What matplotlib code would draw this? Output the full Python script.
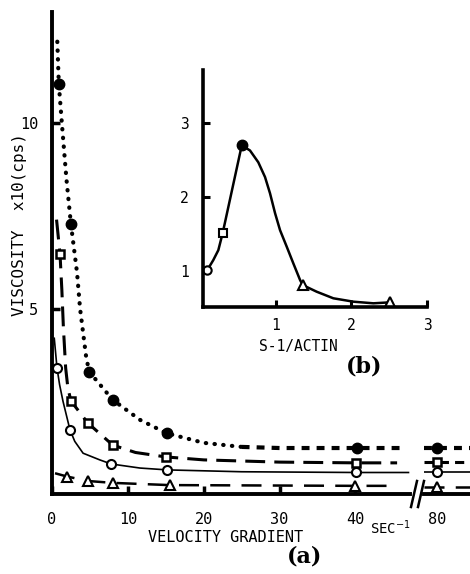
import numpy as np
import matplotlib.pyplot as plt

# ---- data ----
# (a) viscosity x10 (cps) vs velocity gradient (sec^-1)
fc_x = [0.9, 2.5, 4.9, 8.0, 15.1, 40.2]          # filled circles
fc_y = [11.05, 7.27, 3.3, 2.54, 1.64, 1.24]
fc_80 = 1.24
fc_cx = [0.7, 0.9, 1.3, 1.9, 2.5, 3.3, 3.7, 4.5, 4.9, 8.0, 11.6, 15.1, 20, 25, 30, 40.2, 46]
fc_cy = [12.2, 11.05, 10.0, 8.5, 7.27, 5.97, 5.0, 3.7, 3.3, 2.54, 2.0, 1.64, 1.38, 1.27, 1.24, 1.24, 1.24]

sq_x = [1.06, 2.5, 4.7, 8.0, 15.0, 40.1]         # open squares
sq_y = [6.46, 2.51, 1.92, 1.32, 1.0, 0.84]
sq_80 = 0.86
sq_cx = [0.6, 1.06, 1.3, 1.5, 1.8, 2.1, 2.5, 4.7, 8.0, 11, 15.0, 20, 30, 40.1, 45.5]
sq_cy = [7.4, 6.46, 5.5, 4.5, 3.4, 2.85, 2.51, 1.92, 1.32, 1.12, 1.0, 0.92, 0.86, 0.84, 0.84]

oc_x = [0.66, 2.37, 7.8, 15.2, 40.1]             # open circles
oc_y = [3.4, 1.73, 0.81, 0.65, 0.58]
oc_80 = 0.58
oc_cx = [0.3, 0.66, 1.0, 1.45, 2.37, 3.0, 4.1, 6.3, 7.8, 11.6, 15.2, 25, 40.1, 47]
oc_cy = [4.2, 3.4, 2.95, 2.5, 1.73, 1.42, 1.1, 0.92, 0.81, 0.7, 0.65, 0.6, 0.58, 0.58]

tr_x = [2.0, 4.8, 8.0, 15.5, 40.0]               # open triangles
tr_y = [0.47, 0.35, 0.3, 0.24, 0.22]
tr_80 = 0.2
tr_cx = [0.4, 2.0, 4.8, 8.0, 15.5, 40.0, 44.6]
tr_cy = [0.56, 0.47, 0.35, 0.3, 0.24, 0.22, 0.22]

# (b) viscosity vs S-1/actin
in_x = [0.092, 0.296, 0.548, 1.355, 2.51]
in_y = [1.01, 1.514, 2.70, 0.807, 0.573]
in_cx = [0.092, 0.171, 0.238, 0.296, 0.548, 0.657, 0.767, 0.856, 0.922, 0.989, 1.055,
         1.144, 1.231, 1.32, 1.355, 1.54, 1.76, 2.026, 2.29, 2.51]
in_cy = [1.01, 1.145, 1.28, 1.514, 2.70, 2.63, 2.47, 2.27, 2.05, 1.78, 1.55,
         1.325, 1.10, 0.875, 0.807, 0.717, 0.628, 0.582, 0.56, 0.573]

W, H = 470, 574
def fx(x):
    return x / W
def fy(y):
    return 1 - y / H

mono = 'DejaVu Sans Mono'
fig = plt.figure(figsize=(W / 100, H / 100), dpi=100)

ax = fig.add_axes([fx(52), fy(494), (410 - 52) / W, (494 - 12) / H])
ax2 = fig.add_axes([fx(424), fy(494), (470 - 424) / W, (494 - 12) / H])
ax.set_xlim(0, 47.2)
ax2.set_xlim(77.6, 86.1)
for a in (ax, ax2):
    a.set_ylim(0, 13)
    a.spines['top'].set_visible(False)
    a.spines['right'].set_visible(False)
    a.spines['bottom'].set_linewidth(2.8)
    a.patch.set_alpha(0)
ax.spines['left'].set_linewidth(2.8)
ax2.spines['left'].set_visible(False)

ax.set_yticks([5, 10])
ax.set_yticklabels(['5', '10'], family=mono, fontsize=11)
ax.set_xticks([0, 10, 20, 30, 40])
ax.set_xticklabels(['0', '10', '20', '30', '40'], family=mono, fontsize=11)
ax.tick_params(axis='y', direction='in', length=6, width=2.5, pad=10)
ax.tick_params(axis='x', direction='in', length=6, width=2.5, pad=13)
ax2.set_yticks([])
ax2.set_xticks([80])
ax2.set_xticklabels(['80'], family=mono, fontsize=11)
ax2.tick_params(axis='x', direction='in', length=6, width=2.5, pad=13)

# filled circles, dotted then short dashes
fcx = np.array(fc_cx)
fcy = np.array(fc_cy)
m = fcx <= 25
ax.plot(fcx[m], fcy[m], color='k', lw=3, dashes=(0.1, 2.0), dash_capstyle='round')
ax.plot(fcx[fcx >= 25], fcy[fcx >= 25], color='k', lw=3, dashes=(1.9, 1.7))
ax.plot(fc_x, fc_y, 'o', color='k', ms=7.5)
ax2.axhline(fc_80, color='k', lw=3, dashes=(1.9, 1.7))
ax2.plot([80], [fc_80], 'o', color='k', ms=7.5)

# open squares, long dashes
ax.plot(sq_cx, sq_cy, color='k', lw=2.2, dashes=(6.5, 3))
ax.plot(sq_x, sq_y, 's', color='k', mfc='white', mew=1.8, ms=5.5)
ax2.axhline(sq_80, color='k', lw=2.2, dashes=(3, 2))
ax2.plot([80], [sq_80], 's', color='k', mfc='white', mew=1.8, ms=5.5)

# open circles, thin solid
ax.plot(oc_cx, oc_cy, color='k', lw=1.2)
ax.plot(oc_x, oc_y, 'o', color='k', mfc='white', mew=1.5, ms=6.5)
ax2.axhline(oc_80, color='k', lw=1.2)
ax2.plot([80], [oc_80], 'o', color='k', mfc='white', mew=1.5, ms=6.5)

# open triangles, dashed
ax.plot(tr_cx, tr_cy, color='k', lw=1.8, dashes=(8, 4.5))
ax.plot(tr_x, tr_y, '^', color='k', mfc='white', mew=1.5, ms=6.5)
ax2.axhline(tr_80, color='k', lw=1.8, dashes=(8, 4.5))
ax2.plot([80], [tr_80], '^', color='k', mfc='white', mew=1.5, ms=6.5)

# axis break marks
for bx in (414, 421):
    ax.plot([fx(bx - 3), fx(bx + 3)], [fy(507), fy(481)], color='k', lw=1.8,
            transform=fig.transFigure, clip_on=False)

# inset (b)
axin = fig.add_axes([fx(203), fy(307), (427 - 203) / W, (307 - 70) / H])
axin.set_xlim(0.035, 3.0)
axin.set_ylim(0.51, 3.72)
axin.patch.set_alpha(0)
axin.spines['top'].set_visible(False)
axin.spines['right'].set_visible(False)
axin.spines['left'].set_linewidth(2.6)
axin.spines['bottom'].set_linewidth(2.6)
axin.set_xticks([1, 2, 3])
axin.set_xticklabels(['1', '2', '3'], family=mono, fontsize=10.5)
axin.set_yticks([1, 2, 3])
axin.set_yticklabels(['1', '2', '3'], family=mono, fontsize=10.5)
axin.tick_params(axis='both', direction='in', length=5, width=2.2)
axin.tick_params(axis='y', pad=10)
axin.tick_params(axis='x', pad=8)
axin.plot(in_cx, in_cy, color='k', lw=1.8)
axin.plot(in_x[0], in_y[0], 'o', color='k', mfc='white', mew=1.5, ms=6, clip_on=False)
axin.plot(in_x[1], in_y[1], 's', color='k', mfc='white', mew=1.5, ms=5.5)
axin.plot(in_x[2], in_y[2], 'o', color='k', ms=7.5)
axin.plot(in_x[3:], in_y[3:], '^', color='k', mfc='white', mew=1.5, ms=6.5, clip_on=False)

# texts
fig.text(fx(298), fy(347), 'S-1/ACTIN', family=mono, fontsize=10.5, ha='center', va='center')
fig.text(fx(364), fy(366), '(b)', family='DejaVu Serif', fontweight='bold', fontsize=16,
         ha='center', va='center')
fig.text(fx(226), fy(538), 'VELOCITY GRADIENT', family=mono, fontsize=11, ha='center', va='center')
fig.text(fx(390), fy(528), 'SEC$^{-1}$', family=mono, fontsize=10, ha='center', va='center')
fig.text(fx(305), fy(557), '(a)', family='DejaVu Serif', fontweight='bold', fontsize=16,
         ha='center', va='center')
fig.text(fx(20), fy(225), 'VISCOSITY  x10(cps)', family=mono, fontsize=11.5, rotation=90,
         ha='center', va='center')

fig.savefig('out.png', dpi=100)
